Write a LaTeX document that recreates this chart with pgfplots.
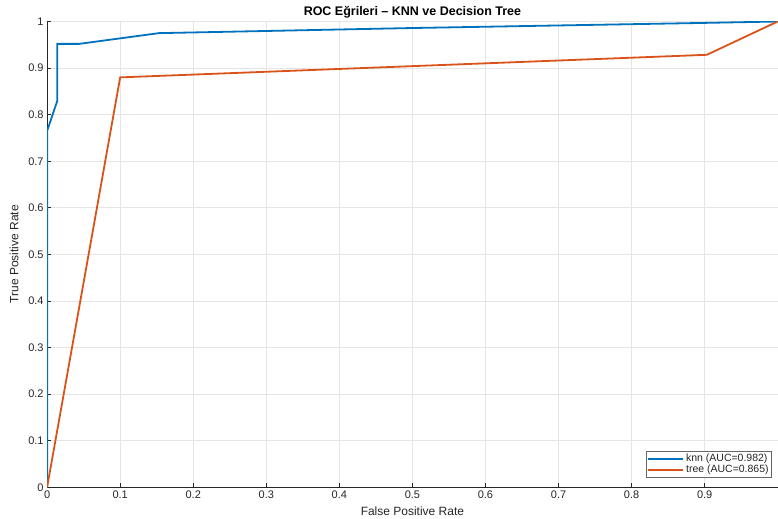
\documentclass[border=0pt]{standalone}
\usepackage{pgfplots}
\pgfplotsset{compat=1.18}
\usepackage{fontspec}
\setmainfont{Liberation Sans}
\definecolor{mblue}{rgb}{0,0.447,0.741}
\definecolor{morange}{rgb}{0.85,0.325,0.098}
\definecolor{axgray}{rgb}{0.15,0.15,0.15}
\begin{document}
\begin{tikzpicture}
\begin{axis}[
  scale only axis,
  width=731pt,
  height=466pt,
  xmin=0, xmax=1,
  ymin=0, ymax=1,
  xtick={0,0.1,...,0.9},
  ytick={0,0.1,...,1},
  axis x line*=bottom,
  axis y line*=left,
  axis line style={axgray, line width=0.6pt},
  tick style={axgray, line width=0.6pt},
  tick align=inside,
  major tick length=4pt,
  grid=major,
  grid style={black!10, line width=0.6pt},
  tick label style={font=\fontsize{11}{13}\selectfont, text=axgray},
  label style={font=\fontsize{12}{14}\selectfont, text=axgray},
  /pgf/number format/assume math mode=true,
  xlabel={False Positive Rate},
  ylabel={\rule{0pt}{15pt}True Positive Rate},
  xlabel style={yshift=-1pt},
  ylabel style={yshift=3pt},
  title={\rule{0pt}{12pt}\bfseries ROC Eğrileri – KNN ve Decision Tree},
  title style={font=\fontsize{12.5}{14}\selectfont, yshift=-6pt},
  legend style={at={(0.992,0.021)}, anchor=south east,
    font=\fontsize{10.5}{12}\selectfont, draw=black!60,
    inner sep=1pt, row sep=-2pt, text=axgray},
  legend cell align=left,
  legend image code/.code={\draw[#1, line width=1.8pt] (0pt,0pt) -- (35pt,0pt);},
]
\addplot[mblue, line width=1.8pt] coordinates {
  (0,0) (0,0.765) (0.014,0.83) (0.014,0.952) (0.044,0.952)
  (0.153,0.975) (0.5,0.986) (0.9,0.997) (1,1)
};
\addlegendentry{knn (AUC=0.982)}
\addplot[morange, line width=1.8pt] coordinates {
  (0,0) (0.1,0.88) (0.903,0.9285) (1,1)
};
\addlegendentry{tree (AUC=0.865)}
\end{axis}
\end{tikzpicture}
\end{document}
